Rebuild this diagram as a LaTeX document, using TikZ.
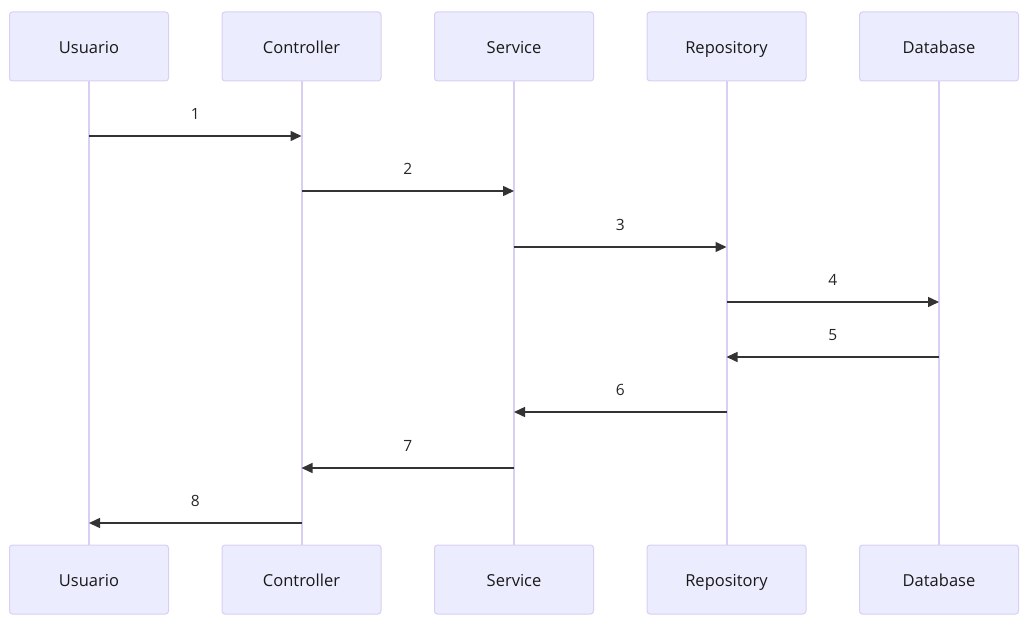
\documentclass[tikz,border=0pt]{standalone}
\usepackage{fontspec}
\setmainfont{Open Sans}
\usepackage{tikz}
\usetikzlibrary{arrows.meta,positioning,backgrounds}

\definecolor{actorfill}{HTML}{ECECFF}
\definecolor{actorline}{HTML}{D9CEF3}
\definecolor{msgline}{HTML}{333333}

\begin{document}
\begin{tikzpicture}
  [
    x=1pt, y=-1pt,
    node distance=52.5pt,
    actor/.style={rectangle,rounded corners=3pt,draw=actorline,fill=actorfill,line width=1pt,
      minimum width=159pt,minimum height=69pt,text height=15pt,text depth=1pt,
      font=\fontsize{16.5}{19}\selectfont,text=black!90},
    lifeline/.style={draw=actorline,line width=2pt},
    msg/.style={draw=msgline,line width=1.5pt,-{Triangle[length=11pt,width=10pt]}},
    num/.style={font=\fontsize{15.5}{18}\selectfont,text=black!85,above=12pt}
  ]
  \useasboundingbox (0,0) rectangle (1031,626);
  % top row
  \node[actor] (usuario) at (89,46.5) {Usuario};
  \node[actor] (controller) [right = of usuario] {Controller};
  \node[actor] (service) [right = of controller] {Service};
  \node[actor] (repository) [right = of service] {Repository};
  \node[actor] (database) [right = of repository] {Database};
  % bottom row
  \node[actor] (usuario b) [below = 463pt of usuario] {Usuario};
  \node[actor] (controller b) [below = 463pt of controller] {Controller};
  \node[actor] (service b) [below = 463pt of service] {Service};
  \node[actor] (repository b) [below = 463pt of repository] {Repository};
  \node[actor] (database b) [below = 463pt of database] {Database};
  % lifelines
  \begin{scope}[on background layer]
    \draw[lifeline] (usuario) -- (usuario b);
    \draw[lifeline] (controller) -- (controller b);
    \draw[lifeline] (service) -- (service b);
    \draw[lifeline] (repository) -- (repository b);
    \draw[lifeline] (database) -- (database b);
  \end{scope}
  % message rows
  \coordinate (r1) at (0,136);
  \coordinate (r2) at (0,191);
  \coordinate (r3) at (0,247);
  \coordinate (r4) at (0,302);
  \coordinate (r5) at (0,357);
  \coordinate (r6) at (0,412);
  \coordinate (r7) at (0,468);
  \coordinate (r8) at (0,523);
  \draw[msg] (usuario |- r1) -- node[num] {1} (controller |- r1);
  \draw[msg] (controller |- r2) -- node[num] {2} (service |- r2);
  \draw[msg] (service |- r3) -- node[num] {3} (repository |- r3);
  \draw[msg] (repository |- r4) -- node[num] {4} (database |- r4);
  \draw[msg] (database |- r5) -- node[num] {5} (repository |- r5);
  \draw[msg] (repository |- r6) -- node[num] {6} (service |- r6);
  \draw[msg] (service |- r7) -- node[num] {7} (controller |- r7);
  \draw[msg] (controller |- r8) -- node[num] {8} (usuario |- r8);
\end{tikzpicture}
\end{document}
